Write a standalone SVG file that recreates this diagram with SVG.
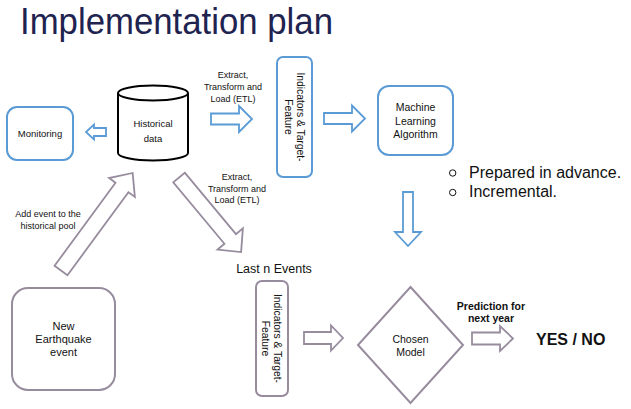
<svg xmlns="http://www.w3.org/2000/svg" width="631" height="409" viewBox="0 0 631 409">
<style>
.t{font-family:"Liberation Sans",Arial,sans-serif;fill:#111;text-anchor:middle}
.s9{font-size:9px}
.s10{font-size:10.5px}
.b{font-weight:bold}
.blue{fill:#fff;stroke:#5B9BD5;stroke-width:2}
.gray{fill:#fff;stroke:#978C9E;stroke-width:2}
.barrow{fill:#fff;stroke:#5B9BD5;stroke-width:1.8;stroke-linejoin:miter}
.garrow{fill:#fff;stroke:#978C9E;stroke-width:1.8;stroke-linejoin:miter}
</style>
<rect width="631" height="409" fill="#fff"/>
<text x="20" y="34" font-family="'Liberation Sans',Arial,sans-serif" font-size="37" fill="#1F2350" textLength="313" lengthAdjust="spacingAndGlyphs">Implementation plan</text>

<g id="connectors">
  <polygon class="barrow" points="211,113.5 239,113.5 239,106 252,119 239,132 239,124.5 211,124.5"/>
  <polygon class="barrow" points="324,113 352,113 352,105.5 365,118.5 352,131.5 352,124 324,124"/>
  <polygon class="barrow" points="106,128 94,128 94,124.5 86,132 94,139.5 94,136 106,136"/>
  <polygon class="barrow" points="403,192 413,192 413,232 421,232 408,246 395,232 403,232"/>
  <polygon class="garrow" points="304,332 331,332 331,325.5 343,338 331,350.5 331,344 304,344"/>
  <polygon class="garrow" points="472,332.5 500,332.5 500,326 513,338.5 500,351 500,344.5 472,344.5"/>
  <polygon class="garrow" transform="translate(61,270.5) rotate(-53.7)" points="0,-8 103,-8 103,-16 121,0 103,16 103,8 0,8"/>
  <polygon class="garrow" transform="translate(179,177.5) rotate(50.2)" points="0,-7.5 80,-7.5 80,-16.5 97,0 80,16.5 80,7.5 0,7.5"/>
  <text class="t s9"><tspan x="233" y="78">Extract,</tspan><tspan x="233" y="90">Transform and</tspan><tspan x="233" y="102">Load (ETL)</tspan></text>
  <text class="t s9"><tspan x="237" y="180">Extract,</tspan><tspan x="237" y="192">Transform and</tspan><tspan x="237" y="203">Load (ETL)</tspan></text>
  <text class="t s9"><tspan x="48" y="217">Add event to the</tspan><tspan x="48" y="229">historical pool</tspan></text>
  <text class="t s10 b"><tspan x="491" y="310">Prediction for</tspan><tspan x="491" y="322">next year</tspan></text>
</g>

<g id="monitoring">
  <rect class="blue" x="7" y="107" width="66" height="53" rx="10"/>
  <text class="t" font-size="9.5" x="40" y="137">Monitoring</text>
</g>

<g id="historical">
  <path d="M118,93 V153 A35,7.5 0 0 0 188,153 V93" fill="#fff" stroke="#000" stroke-width="2"/>
  <ellipse cx="153" cy="93" rx="35" ry="7.5" fill="#fff" stroke="#000" stroke-width="2"/>
  <text class="t" font-size="9.5"><tspan x="153" y="127">Historical</tspan><tspan x="153" y="142">data</tspan></text>
</g>

<g id="indicators1">
  <rect class="blue" x="277" y="57" width="35" height="120" rx="6"/>
  <text class="t" font-size="10.3" transform="translate(294.5,117) rotate(90)"><tspan x="0" y="-2">Indicators &amp; Target-</tspan><tspan x="0" y="10">Feature</tspan></text>
</g>

<g id="ml">
  <rect class="blue" x="378" y="86" width="75" height="69" rx="11"/>
  <text class="t s10"><tspan x="415.5" y="111">Machine</tspan><tspan x="415.5" y="124.5">Learning</tspan><tspan x="415.5" y="138">Algorithm</tspan></text>
</g>

<g id="notes">
  <circle cx="452.7" cy="173" r="3.2" fill="none" stroke="#111" stroke-width="1"/>
  <circle cx="452.7" cy="192.5" r="3.2" fill="none" stroke="#111" stroke-width="1"/>
  <text font-family="'Liberation Sans',Arial,sans-serif" font-size="16" fill="#111"><tspan x="469" y="177.5">Prepared in advance.</tspan><tspan x="469" y="197">Incremental.</tspan></text>
</g>

<g id="new-event">
  <rect class="gray" x="12" y="288" width="103" height="102" rx="16"/>
  <text class="t" font-size="11"><tspan x="63.5" y="330">New</tspan><tspan x="63.5" y="343">Earthquake</tspan><tspan x="63.5" y="356">event</tspan></text>
</g>

<g id="last-n">
  <text class="t" font-size="12.5" x="274" y="273">Last n Events</text>
</g>

<g id="indicators2">
  <rect class="gray" x="256" y="281" width="32" height="115" rx="6"/>
  <text class="t" font-size="10.3" transform="translate(272,338.5) rotate(90)"><tspan x="0" y="-2">Indicators &amp; Target-</tspan><tspan x="0" y="10">Feature</tspan></text>
</g>

<g id="chosen-model">
  <polygon class="gray" points="410.5,287 463,345 410.5,403 358,345"/>
  <text class="t s10"><tspan x="410.5" y="343">Chosen</tspan><tspan x="410.5" y="356">Model</tspan></text>
</g>

<g id="result">
  <text font-family="'Liberation Sans',Arial,sans-serif" font-size="16" font-weight="bold" fill="#111" x="536" y="345">YES / NO</text>
</g>
</svg>
